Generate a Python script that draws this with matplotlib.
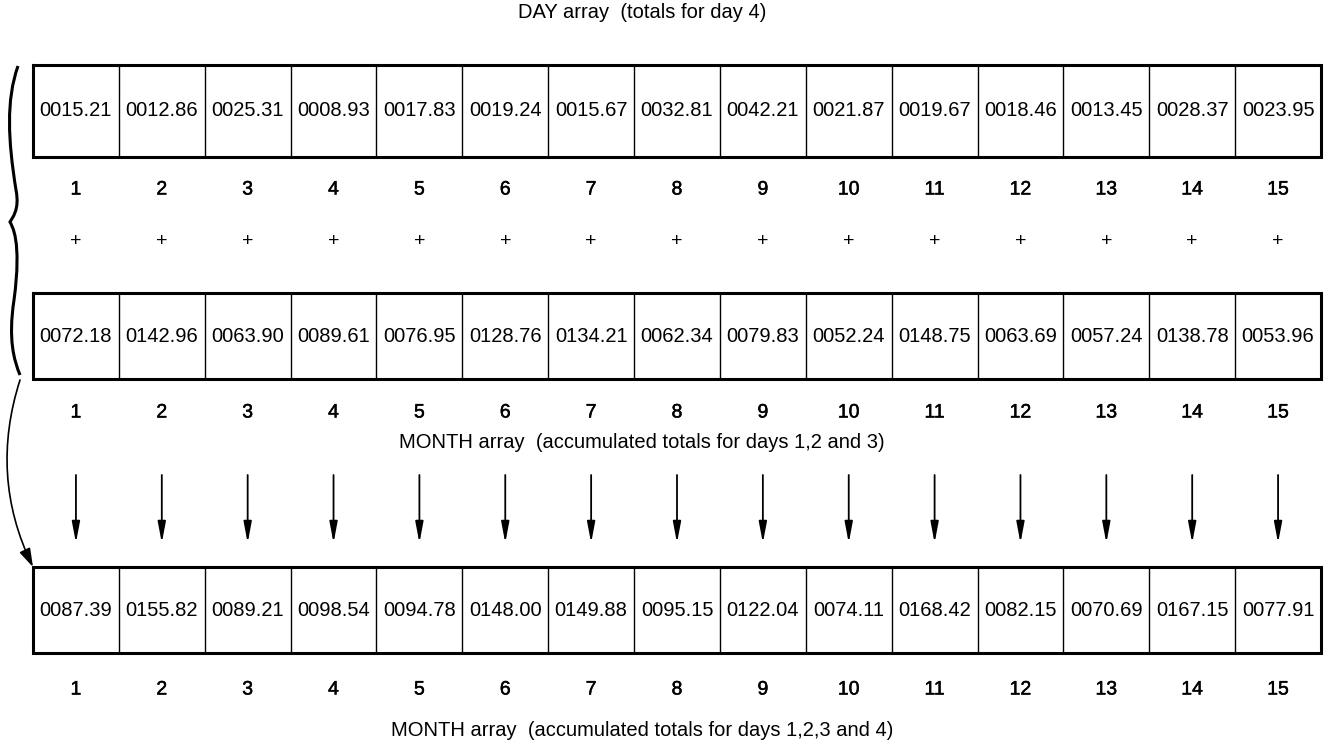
import matplotlib.pyplot as plt
import matplotlib.patheffects as pe
from matplotlib.path import Path
from matplotlib.patches import PathPatch, FancyArrowPatch

# Values held in each array cell
day_totals = [15.21, 12.86, 25.31, 8.93, 17.83, 19.24, 15.67, 32.81,
              42.21, 21.87, 19.67, 18.46, 13.45, 28.37, 23.95]
month_days_123 = [72.18, 142.96, 63.90, 89.61, 76.95, 128.76, 134.21, 62.34,
                  79.83, 52.24, 148.75, 63.69, 57.24, 138.78, 53.96]
month_days_1234 = [87.39, 155.82, 89.21, 98.54, 94.78, 148.00, 149.88, 95.15,
                   122.04, 74.11, 168.42, 82.15, 70.69, 167.15, 77.91]
indices = list(range(1, 16))

title_top = "DAY array  (totals for day 4)"
title_mid = "MONTH array  (accumulated totals for days 1,2 and 3)"
title_bot = "MONTH array  (accumulated totals for days 1,2,3 and 4)"

plt.rcParams['font.family'] = ['Liberation Sans', 'DejaVu Sans']

fig = plt.figure(figsize=(13.29, 7.49), dpi=100)
ax = fig.add_axes([0, 0, 1, 1])
ax.set_xlim(0, 1329)
ax.set_ylim(749, 0)
ax.axis("off")

x0, x1 = 33, 1321
n = len(indices)
cw = (x1 - x0) / n
semi = [pe.withStroke(linewidth=0.35, foreground="black")]


def draw_row(values, top, bottom, label_y):
    # outer frame
    ax.plot([x0, x1, x1, x0, x0], [top, top, bottom, bottom, top],
            color="black", lw=2.2, solid_joinstyle="miter")
    for i in range(1, n):
        ax.plot([x0 + i * cw] * 2, [top, bottom], color="black", lw=1.0)
    for i, v in enumerate(values):
        cx = x0 + (i + 0.5) * cw
        ax.text(cx, (top + bottom) / 2, f"{v:07.2f}", ha="center", va="center",
                fontsize=14.5)
        ax.text(cx, label_y, str(indices[i]), ha="center", va="center",
                fontsize=14, path_effects=semi)


draw_row(day_totals, 65, 157, 190)
draw_row(month_days_123, 293, 379, 413)
draw_row(month_days_1234, 567, 653, 690)

# plus signs between the two input arrays
for i in range(n):
    ax.text(x0 + (i + 0.5) * cw, 242, "+", ha="center", va="center",
            fontsize=14)

# arrows down to the result array
for i in range(n):
    cx = x0 + (i + 0.5) * cw
    ax.annotate("", xy=(cx, 543), xytext=(cx, 475),
                arrowprops=dict(arrowstyle="-|>,head_width=0.17,head_length=0.9",
                                color="black", lw=1.3,
                                mutation_scale=14, shrinkA=0, shrinkB=0))

ax.text(642, 13, title_top, ha="center", va="center", fontsize=14.5)
ax.text(642, 443, title_mid, ha="center", va="center", fontsize=14.5)
ax.text(642, 731, title_bot, ha="center", va="center", fontsize=14.5)

# curly brace joining the two input arrays
verts = [(18, 66), (6, 100), (8, 140), (16, 190),
         (20, 210), (12, 218), (10, 222),
         (12, 226), (22, 240), (14, 300),
         (8, 340), (14, 360), (20, 375)]
codes = [Path.MOVETO] + [Path.CURVE4] * 12
ax.add_patch(PathPatch(Path(verts, codes), fill=False, lw=2.2, color="black"))

# connector from brace to result array
conn = FancyArrowPatch((20, 380), (33, 567),
                       connectionstyle="arc3,rad=0.2",
                       arrowstyle="-|>,head_width=0.25,head_length=0.8",
                       mutation_scale=14, lw=1.2,
                       color="black", shrinkA=0, shrinkB=0)
ax.add_patch(conn)

fig.savefig("out.png", dpi=100)
